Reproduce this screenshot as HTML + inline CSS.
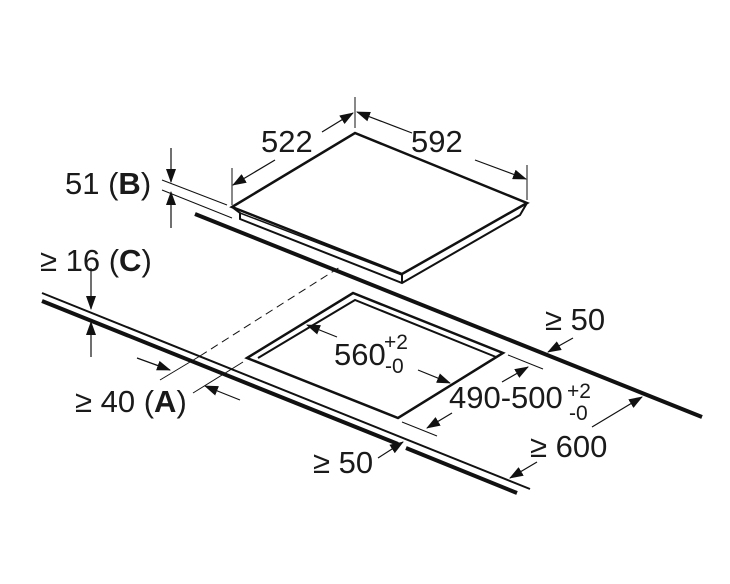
<!DOCTYPE html>
<html><head><meta charset="utf-8"><style>
html,body{margin:0;padding:0;background:#fff}
svg{display:block}
text{font-family:"Liberation Sans",sans-serif;fill:#1a1a1a}
</style></head><body>
<svg width="730" height="584" viewBox="0 0 730 584" xmlns="http://www.w3.org/2000/svg">
<defs>
<marker id="ar" markerWidth="14" markerHeight="10" refX="13" refY="5" orient="auto" markerUnits="userSpaceOnUse">
<path d="M0,0 L14,5 L0,10 Z" fill="#111"/></marker>
</defs>
<g stroke="#111" fill="none" stroke-linecap="butt">
<line x1="195" y1="214" x2="702" y2="417" stroke-width="4"/>
<line x1="42" y1="293" x2="530" y2="489" stroke-width="2"/>
<line x1="42" y1="301" x2="398" y2="444" stroke-width="4"/>
<line x1="406" y1="448" x2="517" y2="493" stroke-width="4"/>
<polygon points="232,207 355,133 527,203 402,274" stroke-width="2.5" fill="#fff"/>
<polyline points="232,207 240,213 240,219 402,283 520,215 527,203" stroke-width="2"/>
<line x1="240" y1="213" x2="402" y2="275" stroke-width="1.5"/>
<line x1="402" y1="274" x2="402" y2="283" stroke-width="2"/>
<polygon points="247,358 353,293 503,353 398,418" stroke-width="2.5"/>
<polyline points="258,358 355,300 496,357" stroke-width="2"/>
<line x1="160" y1="380" x2="200" y2="356" stroke-width="1"/>
<line x1="200" y1="356" x2="340" y2="267" stroke-width="1" stroke-dasharray="8,5"/>
<line x1="193" y1="393" x2="243" y2="362" stroke-width="1"/>
<line x1="162" y1="180" x2="227" y2="205" stroke-width="1"/>
<line x1="162" y1="190" x2="232" y2="218" stroke-width="1"/>
<line x1="232" y1="168" x2="232" y2="205" stroke-width="1"/>
<line x1="355" y1="97" x2="355" y2="128" stroke-width="1"/>
<line x1="527" y1="165" x2="527" y2="200" stroke-width="1"/>
<line x1="508" y1="355" x2="543" y2="369" stroke-width="1"/>
<line x1="402" y1="422" x2="437" y2="436" stroke-width="1"/>
<g stroke-width="1.2" marker-end="url(#ar)">
<line x1="275" y1="160" x2="233" y2="185"/>
<line x1="322" y1="132" x2="353" y2="113"/>
<line x1="412" y1="133" x2="357" y2="112"/>
<line x1="475" y1="160" x2="526" y2="179"/>
<line x1="171" y1="148" x2="171" y2="182"/>
<line x1="171" y1="228" x2="171" y2="192"/>
<line x1="91" y1="268" x2="91" y2="309"/>
<line x1="91" y1="357" x2="91" y2="322"/>
<line x1="137" y1="358" x2="170" y2="370"/>
<line x1="240" y1="400" x2="205" y2="386"/>
<line x1="378" y1="458" x2="403" y2="442"/>
<line x1="337" y1="337" x2="307" y2="325"/>
<line x1="418" y1="370" x2="450" y2="383"/>
<line x1="502" y1="382" x2="528" y2="367"/>
<line x1="452" y1="413" x2="427" y2="428"/>
<line x1="573" y1="338" x2="548" y2="352"/>
<line x1="592" y1="427" x2="642" y2="397"/>
<line x1="537" y1="462" x2="510" y2="478"/>
</g>
</g>
<g font-size="31">
<text x="261" y="152">522</text>
<text x="411" y="152">592</text>
<text x="65" y="194">51 (<tspan font-weight="bold">B</tspan>)</text>
<text x="40" y="271">≥ 16 (<tspan font-weight="bold">C</tspan>)</text>
<text x="75" y="412">≥ 40 (<tspan font-weight="bold">A</tspan>)</text>
<text x="313" y="473">≥ 50</text>
<text x="334" y="365">560</text>
<text x="449" y="408">490-500</text>
<text x="545" y="330">≥ 50</text>
<text x="530" y="457">≥ 600</text>
</g>
<g font-size="21">
<text x="384" y="349">+2</text>
<text x="385" y="373">-0</text>
<text x="567" y="398">+2</text>
<text x="569" y="420">-0</text>
</g>
</svg>
</body></html>
